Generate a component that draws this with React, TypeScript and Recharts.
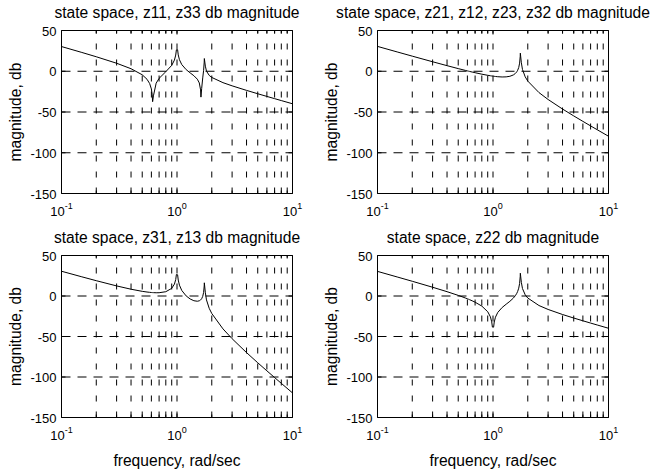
import React from 'react'
import { LineChart, Line, XAxis, YAxis, ReferenceLine } from 'recharts'

// frequency samples, rad/sec (shared by all four panels)
const freq = [
  0.1, 0.15, 0.2, 0.3, 0.4, 0.5, 0.55, 0.58, 0.6, 0.61, 0.615, 0.625, 0.66, 0.7, 0.8, 0.9,
  0.95, 0.975, 0.988, 1.012, 1.025, 1.05, 1.1, 1.2, 1.3, 1.4, 1.5, 1.56, 1.6, 1.612, 1.635,
  1.67, 1.7, 1.72, 1.7245, 1.76, 1.8, 1.9, 2, 2.5, 3, 4, 5, 6, 7, 8, 10,
]

// magnitudes in db
const z11 = [
  30.31, 23.07, 17.79, 9.82, 3.1, -4.35, -9.81, -15.15, -21.77, -28.85, -37.34, -30.16, -14.63, -8.72, -0.55, 7.22,
  13.69, 19.88, 26.32, 26.42, 20.09, 14.14, 8.18, 2.01, -2.0, -5.5, -9.74, -14.36, -22.86, -31.73, -21.26,
  -8.17, 1.1, 11.22, 15.59, 6.25, 0.18, -5.08, -7.6, -13.99, -17.9, -23.48, -27.59, -30.87, -33.62, -35.98, -39.91,
]
const z21 = [
  30.49, 23.48, 18.53, 11.64, 6.85, 3.25, 1.77, 0.95, 0.44, 0.19, 0.07, -0.17, -0.96, -1.8, -3.58, -4.98,
  -5.54, -5.79, -5.91, -6.12, -6.23, -6.41, -6.71, -7.03, -6.9, -6.19, -4.54, -2.79, -1.03, -0.37, 1.17,
  4.6, 9.95, 18.2, 22.2, 10.39, 2.18, -6.86, -12.04, -26.16, -34.65, -46.36, -54.81, -61.5, -67.06, -71.83, -79.74,
]
const z31 = [
  30.57, 23.68, 18.89, 12.46, 8.37, 5.75, 4.9, 4.52, 4.32, 4.24, 4.2, 4.14, 4.01, 4.05, 5.29, 9.45,
  14.68, 20.34, 26.53, 26.22, 19.69, 13.37, 6.84, 0.1, -3.68, -5.83, -6.48, -5.92, -4.9, -4.44, -3.3,
  -0.45, 4.42, 12.36, 16.29, 3.96, -4.82, -15.19, -21.58, -40.57, -52.71, -69.88, -82.41, -92.38, -100.68, -107.82, -119.65,
]
const z22 = [
  30.4, 23.28, 18.18, 10.82, 5.34, 0.76, -1.36, -2.61, -3.43, -3.85, -4.05, -4.47, -5.93, -7.65, -12.46, -19.4,
  -25.76, -31.92, -38.37, -38.47, -32.14, -26.2, -20.27, -14.16, -10.13, -6.54, -2.61, 0.34, 2.83, 3.71, 5.65,
  9.65, 15.48, 24.04, 28.11, 16.82, 9.19, 1.48, -2.5, -11.75, -16.59, -22.84, -27.2, -30.61, -33.43, -35.84, -39.82,
]

const titles = [
  'state space, z11, z33 db magnitude',
  'state space, z21, z12, z23, z32 db magnitude',
  'state space, z31, z13 db magnitude',
  'state space, z22 db magnitude',
]

const xTicks = [0.1, 0.2, 0.3, 0.4, 0.5, 0.6, 0.7, 0.8, 0.9, 1, 2, 3, 4, 5, 6, 7, 8, 9, 10]
const decadeExp: Record<string, string> = { '0.1': '-1', '1': '0', '10': '1' }
const yTicks = [-150, -100, -50, 0, 50]
const gridX = [0.2, 0.3, 0.4, 0.5, 0.6, 0.7, 0.8, 0.9, 1, 2, 3, 4, 5, 6, 7, 8, 9]
const gridY = [-100, -50, 0]

const W = 654
const H = 471
const FONT = '"Liberation Sans", Arial, Helvetica, sans-serif'

const panels = [
  { title: titles[0], values: z11, left: 61.5, top: 30.5, right: 292.5, bottom: 193.5 },
  { title: titles[1], values: z21, left: 377.5, top: 30.5, right: 608.5, bottom: 193.5 },
  { title: titles[2], values: z31, left: 61.5, top: 255.5, right: 292.5, bottom: 417.5 },
  { title: titles[3], values: z22, left: 377.5, top: 255.5, right: 608.5, bottom: 417.5 },
]

type P = (typeof panels)[number]

function Panel({ p }: { p: P }) {
  const data = freq.map((f, i) => ({ f, db: p.values[i] }))

  const XTick = (props: any) => {
    const { x, payload } = props
    const exp = decadeExp[String(payload.value)]
    const len = exp ? 4 : 3
    return (
      <g>
        <line x1={x} y1={p.bottom} x2={x} y2={p.bottom - len} stroke="#000" />
        <line x1={x} y1={p.top} x2={x} y2={p.top + len} stroke="#000" />
        {exp && (
          <text x={x} y={p.bottom + 22} textAnchor="middle" fontSize={13} fontFamily={FONT} fill="#000">
            10<tspan dy={-7} fontSize={9}>{exp}</tspan>
          </text>
        )}
      </g>
    )
  }

  const YTick = (props: any) => {
    const { y, payload } = props
    return (
      <g>
        <line x1={p.left} y1={y} x2={p.left + 4} y2={y} stroke="#000" />
        <line x1={p.right} y1={y} x2={p.right - 4} y2={y} stroke="#000" />
        <text x={p.left - 5} y={y + 5} textAnchor="end" fontSize={13} fontFamily={FONT} fill="#000">
          {payload.value}
        </text>
      </g>
    )
  }

  const axisLine = { stroke: '#000', strokeWidth: 1 }

  return (
    <div style={{ position: 'absolute', left: 0, top: 0 }}>
      <LineChart
        width={W}
        height={H}
        data={data}
        margin={{ top: p.top - 1, left: p.left - 1, right: W - p.right - 1, bottom: H - p.bottom - 1 }}
      >
        <XAxis
          xAxisId="b"
          dataKey="f"
          type="number"
          scale="log"
          domain={[0.1, 10]}
          ticks={xTicks}
          height={1}
          tickSize={0}
          tickMargin={0}
          axisLine={axisLine}
          tickLine={false}
          interval={0}
          tick={<XTick />}
        />
        <XAxis
          xAxisId="t"
          orientation="top"
          dataKey="f"
          type="number"
          scale="log"
          domain={[0.1, 10]}
          height={1}
          axisLine={axisLine}
          tickLine={false}
          tick={false}
        />
        <YAxis
          yAxisId="l"
          type="number"
          domain={[-150, 50]}
          ticks={yTicks}
          width={1}
          tickSize={0}
          tickMargin={0}
          axisLine={axisLine}
          tickLine={false}
          interval={0}
          tick={<YTick />}
        />
        <YAxis
          yAxisId="r"
          orientation="right"
          type="number"
          domain={[-150, 50]}
          width={1}
          axisLine={axisLine}
          tickLine={false}
          tick={false}
        />
        {gridX.map(v => (
          <ReferenceLine key={'gx' + v} xAxisId="b" yAxisId="l" x={v} stroke="#000" strokeWidth={1} strokeDasharray="6 10" />
        ))}
        {gridY.map(v => (
          <ReferenceLine key={'gy' + v} xAxisId="b" yAxisId="l" y={v} stroke="#000" strokeWidth={1} strokeDasharray="9 7" />
        ))}
        <Line
          xAxisId="b"
          yAxisId="l"
          type="linear"
          dataKey="db"
          stroke="#000"
          strokeWidth={1}
          dot={false}
          activeDot={false}
          isAnimationActive={false}
        />
      </LineChart>
    </div>
  )
}

export default function App() {
  return (
    <div style={{ position: 'absolute', left: 0, top: 0, width: W, height: H, background: '#fff', fontFamily: FONT }}>
      {panels.map((p, i) => (
        <Panel key={i} p={p} />
      ))}
      <svg width={W} height={H} style={{ position: 'absolute', left: 0, top: 0, pointerEvents: 'none' }}>
        {panels.map((p, i) => {
          const cx = (p.left + p.right) / 2
          const cy = (p.top + p.bottom) / 2
          const lx = p.left - 41
          return (
            <g key={i} fontFamily={FONT} fill="#000">
              <text x={cx} y={p.top - 13} textAnchor="middle" fontSize={15.6}>
                {p.title}
              </text>
              <text x={lx} y={cy} textAnchor="middle" fontSize={15.6} transform={`rotate(-90 ${lx} ${cy})`}>
                magnitude, db
              </text>
              {i >= 2 && (
                <text x={cx} y={p.bottom + 48} textAnchor="middle" fontSize={15.6}>
                  frequency, rad/sec
                </text>
              )}
            </g>
          )
        })}
      </svg>
    </div>
  )
}
